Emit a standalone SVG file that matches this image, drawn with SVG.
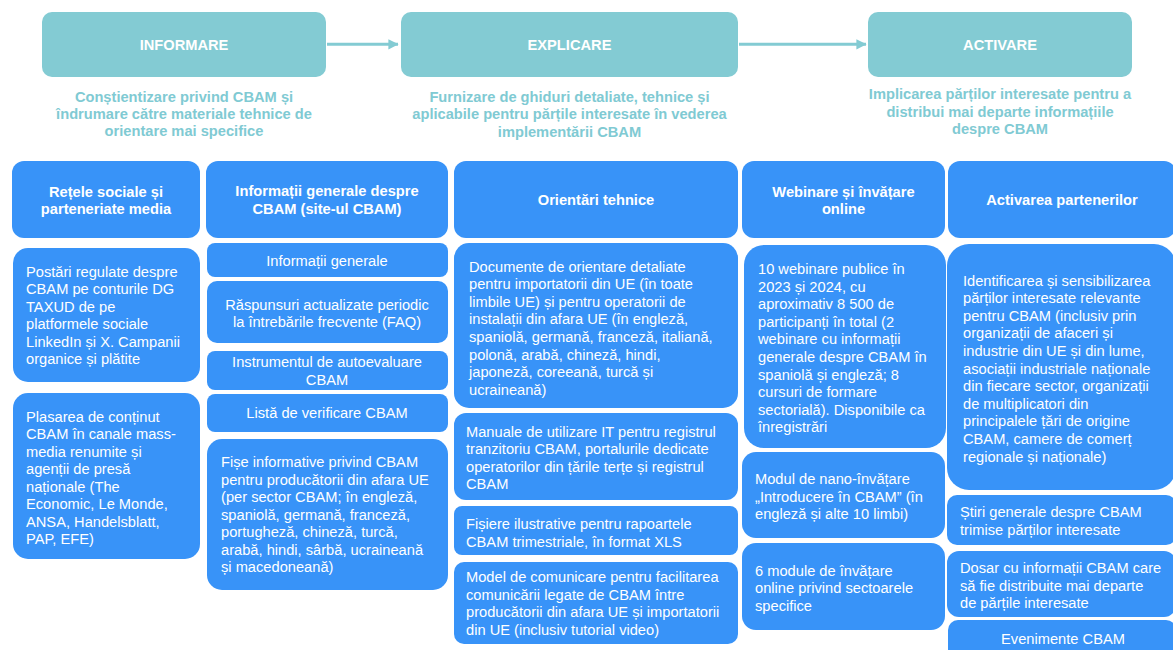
<svg xmlns="http://www.w3.org/2000/svg" width="1173" height="650" viewBox="0 0 1173 650">
<style>
text{font-family:"Liberation Sans",Arial,sans-serif;font-size:14.67px}
.stage{fill:#83cbd3}
.st{fill:#fff;font-weight:bold;text-anchor:middle}
.sub{fill:#80cad3;font-weight:bold;text-anchor:middle}
.box{fill:#3893f8}
.hd{fill:#fff;font-weight:bold;text-anchor:middle}
.tx{fill:#fff}
.tc{fill:#fff;text-anchor:middle}
.arr{stroke:#83cbd3;stroke-width:3;fill:none}
</style>
<defs>
<marker id="ah" markerWidth="4" markerHeight="4" refX="3.2" refY="2" orient="auto" markerUnits="strokeWidth">
<path d="M0,0.3 L3.4,2 L0,3.7 Z" fill="#83cbd3"/>
</marker>
</defs>
<rect width="1173" height="650" fill="#fff"/>

<g id="connectors">
<line class="arr" x1="327" y1="44.3" x2="398" y2="44.3" marker-end="url(#ah)"/>
<line class="arr" x1="739" y1="44.3" x2="866" y2="44.3" marker-end="url(#ah)"/>
</g>

<g id="informare">
<rect class="stage" x="42" y="12" width="284" height="65" rx="10"/>
<text class="st" x="184" y="50">INFORMARE</text>
<text class="sub"><tspan x="184" y="102">Conștientizare privind CBAM și</tspan><tspan x="184" y="119">îndrumare către materiale tehnice de</tspan><tspan x="184" y="136">orientare mai specifice</tspan></text>
</g>
<g id="explicare">
<rect class="stage" x="401" y="12" width="337" height="65" rx="10"/>
<text class="st" x="569.5" y="50">EXPLICARE</text>
<text class="sub"><tspan x="569.5" y="101.5">Furnizare de ghiduri detaliate, tehnice și</tspan><tspan x="569.5" y="119">aplicabile pentru părțile interesate în vederea</tspan><tspan x="569.5" y="136.5">implementării CBAM</tspan></text>
</g>
<g id="activare">
<rect class="stage" x="868" y="12" width="264" height="65" rx="10"/>
<text class="st" x="1000" y="50">ACTIVARE</text>
<text class="sub"><tspan x="1000" y="99">Implicarea părților interesate pentru a</tspan><tspan x="1000" y="116.5">distribui mai departe informațiile</tspan><tspan x="1000" y="134">despre CBAM</tspan></text>
</g>

<g id="col1-header">
<rect class="box" x="12" y="161" width="188" height="77" rx="12"/>
<text class="hd"><tspan x="106" y="196.5">Rețele sociale și</tspan><tspan x="106" y="214">parteneriate media</tspan></text>
</g>
<g id="col1-postari">
<rect class="box" x="13" y="248" width="187" height="134" rx="15"/>
<text class="tx"><tspan x="26" y="276.5">Postări regulate despre</tspan><tspan x="26" y="294">CBAM pe conturile DG</tspan><tspan x="26" y="311.5">TAXUD de pe</tspan><tspan x="26" y="329">platformele sociale</tspan><tspan x="26" y="346.5">LinkedIn și X. Campanii</tspan><tspan x="26" y="364">organice și plătite</tspan></text>
</g>
<g id="col1-plasarea">
<rect class="box" x="13" y="393" width="187" height="166" rx="15"/>
<text class="tx"><tspan x="26" y="421.5">Plasarea de conținut</tspan><tspan x="26" y="439">CBAM în canale mass-</tspan><tspan x="26" y="456.5">media renumite și</tspan><tspan x="26" y="474">agenții de presă</tspan><tspan x="26" y="491.5">naționale (The</tspan><tspan x="26" y="509">Economic, Le Monde,</tspan><tspan x="26" y="526.5">ANSA, Handelsblatt,</tspan><tspan x="26" y="544">PAP, EFE)</tspan></text>
</g>

<g id="col2-header">
<rect class="box" x="206" y="161" width="242" height="77" rx="12"/>
<text class="hd"><tspan x="327" y="196">Informații generale despre</tspan><tspan x="327" y="214">CBAM (site-ul CBAM)</tspan></text>
</g>
<g id="col2-info">
<rect class="box" x="207" y="243" width="241" height="34" rx="8"/>
<text class="tc" x="327" y="265.5">Informații generale</text>
</g>
<g id="col2-faq">
<rect class="box" x="207" y="281" width="241" height="62" rx="10"/>
<text class="tc"><tspan x="327" y="309.5">Răspunsuri actualizate periodic</tspan><tspan x="327" y="327">la întrebările frecvente (FAQ)</tspan></text>
</g>
<g id="col2-instrument">
<rect class="box" x="207" y="351" width="241" height="39" rx="8"/>
<text class="tc"><tspan x="327" y="367">Instrumentul de autoevaluare</tspan><tspan x="327" y="384.5">CBAM</tspan></text>
</g>
<g id="col2-lista">
<rect class="box" x="207" y="394" width="241" height="38" rx="8"/>
<text class="tc" x="327" y="418">Listă de verificare CBAM</text>
</g>
<g id="col2-fise">
<rect class="box" x="207" y="439" width="241" height="151" rx="15"/>
<text class="tx"><tspan x="221" y="467">Fișe informative privind CBAM</tspan><tspan x="221" y="484.5">pentru producătorii din afara UE</tspan><tspan x="221" y="502">(per sector CBAM; în engleză,</tspan><tspan x="221" y="519.5">spaniolă, germană, franceză,</tspan><tspan x="221" y="537">portugheză, chineză, turcă,</tspan><tspan x="221" y="554.5">arabă, hindi, sârbă, ucraineană</tspan><tspan x="221" y="572">și macedoneană)</tspan></text>
</g>

<g id="col3-header">
<rect class="box" x="454" y="161" width="284" height="77" rx="12"/>
<text class="hd" x="596" y="205">Orientări tehnice</text>
</g>
<g id="col3-documente">
<rect class="box" x="454" y="243" width="284" height="165" rx="15"/>
<text class="tx"><tspan x="469" y="271.5">Documente de orientare detaliate</tspan><tspan x="469" y="289.1">pentru importatorii din UE (în toate</tspan><tspan x="469" y="306.7">limbile UE) și pentru operatorii de</tspan><tspan x="469" y="324.3">instalații din afara UE (în engleză,</tspan><tspan x="469" y="341.9">spaniolă, germană, franceză, italiană,</tspan><tspan x="469" y="359.5">polonă, arabă, chineză, hindi,</tspan><tspan x="469" y="377.1">japoneză, coreeană, turcă și</tspan><tspan x="469" y="394.7">ucraineană)</tspan></text>
</g>
<g id="col3-manuale">
<rect class="box" x="454" y="413" width="284" height="87" rx="12"/>
<text class="tx"><tspan x="466" y="436.5">Manuale de utilizare IT pentru registrul</tspan><tspan x="466" y="454">tranzitoriu CBAM, portalurile dedicate</tspan><tspan x="466" y="471.5">operatorilor din țările terțe și registrul</tspan><tspan x="466" y="489">CBAM</tspan></text>
</g>
<g id="col3-fisiere">
<rect class="box" x="454" y="506" width="284" height="49" rx="8"/>
<text class="tx"><tspan x="466" y="529">Fișiere ilustrative pentru rapoartele</tspan><tspan x="466" y="546.5">CBAM trimestriale, în format XLS</tspan></text>
</g>
<g id="col3-model">
<rect class="box" x="454" y="562" width="284" height="82" rx="10"/>
<text class="tx"><tspan x="466" y="582">Model de comunicare pentru facilitarea</tspan><tspan x="466" y="599.5">comunicării legate de CBAM între</tspan><tspan x="466" y="617">producătorii din afara UE și importatorii</tspan><tspan x="466" y="634.5">din UE (inclusiv tutorial video)</tspan></text>
</g>

<g id="col4-header">
<rect class="box" x="742" y="161" width="203" height="77" rx="12"/>
<text class="hd"><tspan x="843.5" y="196.5">Webinare și învățare</tspan><tspan x="843.5" y="214">online</tspan></text>
</g>
<g id="col4-webinare">
<rect class="box" x="744" y="245" width="202" height="203" rx="20"/>
<text class="tx"><tspan x="758" y="274">10 webinare publice în</tspan><tspan x="758" y="291.6">2023 și 2024, cu</tspan><tspan x="758" y="309.2">aproximativ 8 500 de</tspan><tspan x="758" y="326.8">participanți în total (2</tspan><tspan x="758" y="344.4">webinare cu informații</tspan><tspan x="758" y="362">generale despre CBAM în</tspan><tspan x="758" y="379.6">spaniolă și engleză; 8</tspan><tspan x="758" y="397.2">cursuri de formare</tspan><tspan x="758" y="414.8">sectorială). Disponibile ca</tspan><tspan x="758" y="432.4">înregistrări</tspan></text>
</g>
<g id="col4-nano">
<rect class="box" x="742" y="452" width="203" height="86" rx="14"/>
<text class="tx"><tspan x="755" y="484">Modul de nano-învățare</tspan><tspan x="755" y="501.5">„Introducere în CBAM” (în</tspan><tspan x="755" y="519">engleză și alte 10 limbi)</tspan></text>
</g>
<g id="col4-module">
<rect class="box" x="742" y="543" width="203" height="87" rx="14"/>
<text class="tx"><tspan x="755" y="575.5">6 module de învățare</tspan><tspan x="755" y="593">online privind sectoarele</tspan><tspan x="755" y="610.5">specifice</tspan></text>
</g>

<g id="col5-header">
<rect class="box" x="948" y="161" width="228" height="77" rx="12"/>
<text class="hd" x="1062" y="205">Activarea partenerilor</text>
</g>
<g id="col5-identificarea">
<rect class="box" x="947" y="244" width="229" height="246" rx="22"/>
<text class="tx"><tspan x="963" y="285.5">Identificarea și sensibilizarea</tspan><tspan x="963" y="303.1">părților interesate relevante</tspan><tspan x="963" y="320.7">pentru CBAM (inclusiv prin</tspan><tspan x="963" y="338.3">organizații de afaceri și</tspan><tspan x="963" y="355.9">industrie din UE și din lume,</tspan><tspan x="963" y="373.5">asociații industriale naționale</tspan><tspan x="963" y="391.1">din fiecare sector, organizații</tspan><tspan x="963" y="408.7">de multiplicatori din</tspan><tspan x="963" y="426.3">principalele țări de origine</tspan><tspan x="963" y="443.9">CBAM, camere de comerț</tspan><tspan x="963" y="461.5">regionale și naționale)</tspan></text>
</g>
<g id="col5-stiri">
<rect class="box" x="947" y="495" width="229" height="50" rx="10"/>
<text class="tx"><tspan x="960" y="517">Știri generale despre CBAM</tspan><tspan x="960" y="534.5">trimise părților interesate</tspan></text>
</g>
<g id="col5-dosar">
<rect class="box" x="947" y="551" width="229" height="66" rx="12"/>
<text class="tx"><tspan x="960" y="573">Dosar cu informații CBAM care</tspan><tspan x="960" y="590.5">să fie distribuite mai departe</tspan><tspan x="960" y="608">de părțile interesate</tspan></text>
</g>
<g id="col5-evenimente">
<rect class="box" x="948" y="620" width="228" height="50" rx="10"/>
<text class="tc" x="1063" y="644">Evenimente CBAM</text>
</g>
</svg>
